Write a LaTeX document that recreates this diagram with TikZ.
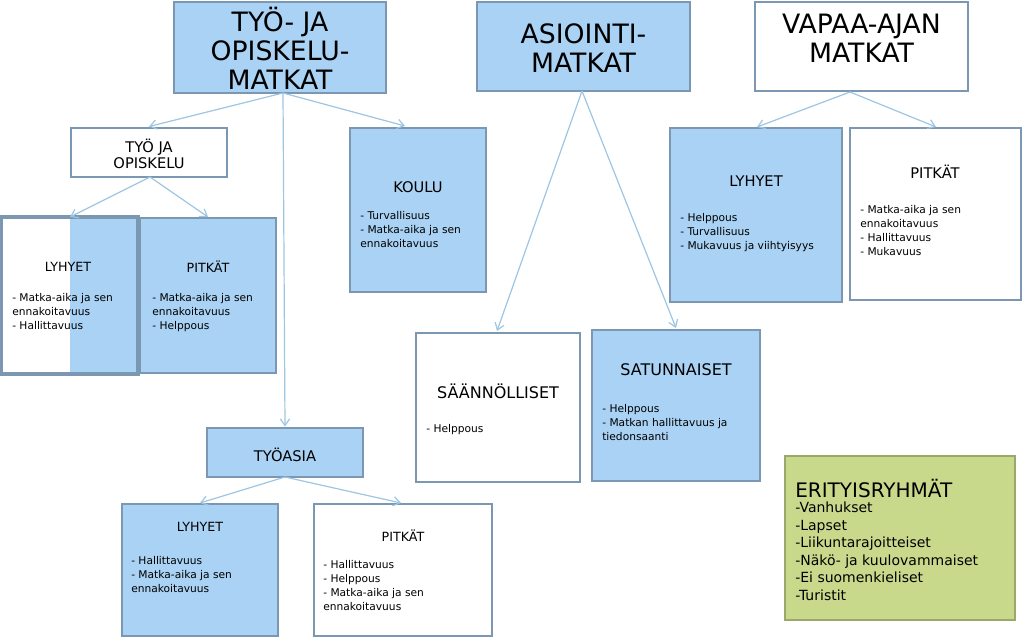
\documentclass[tikz,border=0pt]{standalone}
\usepackage{fontspec}
\setmainfont{DejaVu Sans}
\usetikzlibrary{arrows.meta}
\definecolor{bfill}{HTML}{A9D2F4}
\definecolor{bline}{HTML}{7C97B2}
\definecolor{arr}{HTML}{9EC5E2}
\definecolor{gfill}{HTML}{C9D98B}
\definecolor{gline}{HTML}{9AA86C}
\begin{document}
\begin{tikzpicture}[x=0.75pt,y=-0.75pt,
 box/.style={draw=bline,line width=2.2pt,inner sep=0pt},
 bb/.style={box,fill=bfill},
 wb/.style={box,fill=white},
 ttl/.style={font=\fontsize{20}{21.75}\selectfont,align=center},
 hd/.style={font=\fontsize{11}{12}\selectfont,align=center},
 bl/.style={font=\fontsize{8}{10.5}\selectfont,align=left,anchor=north west,inner sep=0pt},
 ar/.style={draw=arr,line width=0.9pt,-{Straight Barb[length=5pt,width=7pt]}}]
\useasboundingbox (0,0) rectangle (1024,638);
% boxes
\node[bb,minimum width=159pt,minimum height=68.25pt] (A) at (280,47.5) {};
\node[bb,minimum width=159.75pt,minimum height=66.75pt] (B) at (583.5,46.5) {};
\node[wb,minimum width=159.75pt,minimum height=66.75pt] (C) at (861.5,46.5) {};
\node[wb,minimum width=117pt,minimum height=36.75pt] (D) at (149,152.5) {};
\node[bb,minimum width=102pt,minimum height=123pt] (E) at (418,210) {};
\node[wb,minimum width=101.25pt,minimum height=116.25pt] (F) at (69.5,295.5) {};
\fill[bfill] (70,219) rectangle (136,372);
\draw[draw=bline,line width=2.2pt] (F.south west) rectangle (F.north east);
\node[bb,minimum width=102pt,minimum height=116.25pt] (G) at (208,295.5) {};
\node[bb,minimum width=129pt,minimum height=130.5pt] (H) at (756,215) {};
\node[wb,minimum width=128.25pt,minimum height=129pt] (I) at (935.5,214) {};
\node[wb,minimum width=123pt,minimum height=111.75pt] (J) at (498,407.5) {};
\node[bb,minimum width=126pt,minimum height=113.25pt] (K) at (676,405.5) {};
\node[bb,minimum width=117pt,minimum height=36.75pt] (L) at (285,452.5) {};
\node[bb,minimum width=117pt,minimum height=99pt] (M) at (200,570) {};
\node[wb,minimum width=133.5pt,minimum height=99pt] (N) at (403,570) {};
\node[box,draw=gline,fill=gfill,minimum width=172.5pt,minimum height=123pt] (O) at (900,538) {};
% titles
\node[ttl] (tA) at (280,48) {TYÖ- JA\\OPISKELU-\\MATKAT};
\node[ttl] (tB) at (583.5,48) {ASIOINTI-\\MATKAT};
\node[ttl] (tC) at (861.5,38) {VAPAA-AJAN\\MATKAT};
\node[hd] (tD) at (149,154) {TYÖ JA\\OPISKELU};
\node[hd] (tE) at (418,187) {KOULU};
\node[bl] (bE) at (360,211) {- Turvallisuus\\- Matka-aika ja sen\\ennakoitavuus};
\node[hd,font=\fontsize{9.5}{11}\selectfont] (tF) at (68,267) {LYHYET};
\node[bl] (bF) at (12,293) {- Matka-aika ja sen\\ennakoitavuus\\- Hallittavuus};
\node[hd,font=\fontsize{9.5}{11}\selectfont] (tG) at (208,267) {PITKÄT};
\node[bl] (bG) at (152,293) {- Matka-aika ja sen\\ennakoitavuus\\- Helppous};
\node[hd] (tH) at (756,181) {LYHYET};
\node[bl] (bH) at (680,213) {- Helppous\\- Turvallisuus\\- Mukavuus ja viihtyisyys};
\node[hd] (tI) at (935,172) {PITKÄT};
\node[bl] (bI) at (860,205) {- Matka-aika ja sen\\ennakoitavuus\\- Hallittavuus\\- Mukavuus};
\node[hd,font=\fontsize{12}{13}\selectfont] (tJ) at (498,391) {SÄÄNNÖLLISET};
\node[bl] (bJ) at (426,424) {- Helppous};
\node[hd,font=\fontsize{12}{13}\selectfont] (tK) at (676,370) {SATUNNAISET};
\node[bl] (bK) at (602,404) {- Helppous\\- Matkan hallittavuus ja\\tiedonsaanti};
\node[hd] (tL) at (285,455) {TYÖASIA};
\node[hd,font=\fontsize{9.5}{11}\selectfont] (tM) at (200,527) {LYHYET};
\node[bl] (bM) at (131,556) {- Hallittavuus\\- Matka-aika ja sen\\ennakoitavuus};
\node[hd,font=\fontsize{9.5}{11}\selectfont] (tN) at (403,536) {PITKÄT};
\node[bl] (bN) at (323,560) {- Hallittavuus\\- Helppous\\- Matka-aika ja sen\\ennakoitavuus};
\node[bl,font=\fontsize{15}{16}\selectfont] (tO) at (795,479) {ERITYISRYHMÄT};
\node[bl,font=\fontsize{10.5}{13.1}\selectfont] (bO) at (795,502) {-Vanhukset\\-Lapset\\-Liikuntarajoitteiset\\-Näkö- ja kuulovammaiset\\-Ei suomenkieliset\\-Turistit};
% arrows
\coordinate (a0) at (283,93);
\draw[ar] (a0) -- (D.north);
\draw[ar] (a0) -- (L.north);
\draw[ar] (a0) -- (405,126);
\coordinate (d0) at (150,177);
\draw[ar] (d0) -- (70,217);
\draw[ar] (d0) -- (208,217);
\coordinate (b0) at (582,91);
\draw[ar] (b0) -- (497,331);
\draw[ar] (b0) -- (676,328);
\coordinate (c0) at (850,92);
\draw[ar] (c0) -- (757,127);
\draw[ar] (c0) -- (936,127);
\coordinate (l0) at (285,477);
\draw[ar] (l0) -- (200,503);
\draw[ar] (l0) -- (401,503);
\end{tikzpicture}
\end{document}
